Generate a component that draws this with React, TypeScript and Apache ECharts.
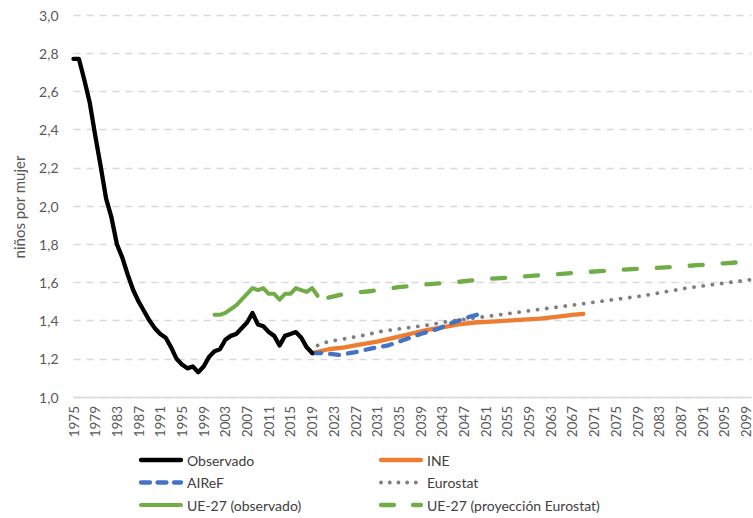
import React, { useEffect, useRef } from "react";
import * as echarts from "echarts";

const FIRST_YEAR = 1975;
const LAST_YEAR = 2100;
const years: string[] = [];
for (let y = FIRST_YEAR; y <= LAST_YEAR; y++) years.push(String(y));

// Observado (España) 1975-2019
const observedValues = [
  2.77, 2.77, 2.66, 2.54, 2.37, 2.21, 2.04, 1.94, 1.8, 1.73,
  1.64, 1.56, 1.5, 1.45, 1.4, 1.36, 1.33, 1.31, 1.26, 1.2,
  1.17, 1.15, 1.16, 1.13, 1.16, 1.21, 1.24, 1.25, 1.3, 1.32,
  1.33, 1.36, 1.39, 1.44, 1.38, 1.37, 1.34, 1.32, 1.27, 1.32,
  1.33, 1.34, 1.31, 1.26, 1.23,
];

// UE-27 observado 2001-2020
const euObsStart = 2001;
const euObsValues = [
  1.43, 1.43, 1.44, 1.46, 1.48, 1.51, 1.54, 1.57, 1.56, 1.57,
  1.54, 1.54, 1.51, 1.54, 1.54, 1.57, 1.56, 1.55, 1.57, 1.53,
];

// INE projection
const ineYears = [2019, 2022, 2025, 2028, 2031, 2034, 2037, 2040, 2043, 2046, 2049, 2052, 2055, 2058, 2061, 2064, 2067, 2069];
const ineValues = [1.23, 1.25, 1.26, 1.275, 1.29, 1.31, 1.33, 1.35, 1.365, 1.38, 1.39, 1.395, 1.4, 1.405, 1.41, 1.42, 1.43, 1.435];

// AIReF projection
const airefYears = [2019, 2021, 2024, 2027, 2030, 2033, 2036, 2039, 2042, 2045, 2048, 2050];
const airefValues = [1.23, 1.23, 1.22, 1.235, 1.255, 1.27, 1.3, 1.33, 1.355, 1.39, 1.42, 1.435];

// Eurostat projection (España)
const eurostatYears = [2019, 2020, 2022, 2025, 2028, 2032, 2036, 2040, 2044, 2048, 2052, 2056, 2060, 2064, 2068, 2072, 2076, 2080, 2084, 2088, 2092, 2096, 2100];
const eurostatValues = [1.23, 1.27, 1.29, 1.305, 1.32, 1.345, 1.36, 1.375, 1.395, 1.41, 1.425, 1.44, 1.455, 1.47, 1.485, 1.5, 1.515, 1.53, 1.55, 1.57, 1.585, 1.6, 1.615];

// UE-27 projection Eurostat
const euProjYears = [2022, 2025, 2030, 2035, 2040, 2045, 2050, 2055, 2060, 2065, 2070, 2075, 2080, 2085, 2090, 2095, 2100];
const euProjValues = [1.52, 1.54, 1.555, 1.575, 1.59, 1.6, 1.615, 1.625, 1.635, 1.645, 1.655, 1.665, 1.672, 1.68, 1.69, 1.7, 1.71];

const legendLeft = ["Observado", "AIReF", "UE-27 (observado)"];
const legendRight = ["INE", "Eurostat", "UE-27 (proyección Eurostat)"];

function fromSparse(ys: number[], vs: number[]): (number | null)[] {
  const arr: (number | null)[] = years.map(() => null);
  ys.forEach((y, i) => {
    arr[y - FIRST_YEAR] = vs[i];
  });
  return arr;
}
function fromRun(start: number, vs: number[]): (number | null)[] {
  const arr: (number | null)[] = years.map(() => null);
  vs.forEach((v, i) => {
    arr[start - FIRST_YEAR + i] = v;
  });
  return arr;
}

const FONT = "Lato, 'Open Sans', sans-serif";

type LS = { color: string; width: number; dash?: number[] };
const styles: Record<string, LS> = {
  Observado: { color: "#000000", width: 4.3 },
  INE: { color: "#ED7D31", width: 4.3 },
  AIReF: { color: "#4472C4", width: 4.3, dash: [9, 9] },
  Eurostat: { color: "#7F7F7F", width: 3.8, dash: [0.1, 9.2] },
  "UE-27 (observado)": { color: "#70AD47", width: 4 },
  "UE-27 (proyección Eurostat)": { color: "#70AD47", width: 4.3, dash: [13, 20] },
};

function legendItems(names: string[], x0: number) {
  const rowY = [460, 482.5, 505];
  const out: any[] = [];
  names.forEach((n, i) => {
    const s = styles[n];
    const legendDash =
      n === "AIReF" ? [9, 7.5] : n === "UE-27 (proyección Eurostat)" ? [13, 19] : n === "Eurostat" ? [0.1, 8.6] : undefined;
    out.push({
      type: "line",
      shape: { x1: x0 + 2, y1: rowY[i], x2: x0 + 42, y2: rowY[i] },
      style: {
        stroke: s.color,
        lineWidth: s.width,
        lineCap: "round",
        lineDash: legendDash,
      },
    });
    out.push({
      type: "text",
      x: x0 + 48,
      y: rowY[i],
      style: {
        text: n,
        fill: "#404040",
        font: `14px ${FONT}`,
        textAlign: "left",
        textVerticalAlign: "middle",
      },
    });
  });
  return out;
}

export default function App() {
  const ref = useRef<HTMLDivElement>(null);
  useEffect(() => {
    document.body.style.margin = "0";
    if (!ref.current) return;
    const chart = echarts.init(ref.current, null, { renderer: "svg" });
    const mk = (name: string, data: (number | null)[]) => {
      const s = styles[name];
      return {
        type: "line" as const,
        name,
        data,
        symbol: "none",
        showSymbol: false,
        connectNulls: true,
        smooth: false,
        lineStyle: {
          color: s.color,
          width: s.width,
          type: s.dash ? s.dash : "solid",
          cap: "round",
          join: "round",
        },
        itemStyle: { color: s.color },
      };
    };
    chart.setOption({
      animation: false,
      textStyle: { fontFamily: FONT },
      grid: { left: 73.5, right: 0, top: 15, bottom: 121, containLabel: false },
      xAxis: {
        type: "category",
        data: years,
        boundaryGap: false,
        axisLine: { show: true, lineStyle: { color: "#D9D9D9", width: 1.3 } },
        axisTick: { show: false },
        axisLabel: {
          interval: 3,
          rotate: 90,
          color: "#595959",
          fontSize: 13.5,
          fontFamily: FONT,
          margin: 9,
        },
        splitLine: { show: false },
      },
      yAxis: {
        type: "value",
        min: 1,
        max: 3,
        interval: 0.2,
        axisLine: { show: false },
        axisTick: { show: false },
        axisLabel: {
          color: "#595959",
          fontSize: 14,
          fontFamily: FONT,
          margin: 15,
          formatter: (v: number) => v.toFixed(1).replace(".", ","),
        },
        splitLine: {
          show: true,
          lineStyle: { color: "#D9D9D9", width: 1.3, type: [7, 6] },
        },
      },
      legend: { show: false },
      graphic: [
        {
          type: "text",
          x: 19,
          y: 207,
          rotation: Math.PI / 2,
          style: {
            text: "niños por mujer",
            fill: "#595959",
            font: `15px ${FONT}`,
            textAlign: "center",
            textVerticalAlign: "middle",
          },
        },
        ...legendItems(legendLeft, 139),
        ...legendItems(legendRight, 379),
      ],
      series: [
        mk("UE-27 (proyección Eurostat)", fromSparse(euProjYears, euProjValues)),
        mk("UE-27 (observado)", fromRun(euObsStart, euObsValues)),
        mk("INE", fromSparse(ineYears, ineValues)),
        mk("Eurostat", fromSparse(eurostatYears, eurostatValues)),
        mk("AIReF", fromSparse(airefYears, airefValues)),
        mk("Observado", fromRun(FIRST_YEAR, observedValues)),
      ],
    });
    return () => chart.dispose();
  }, []);
  return <div ref={ref} style={{ width: 753, height: 518 }} />;
}
